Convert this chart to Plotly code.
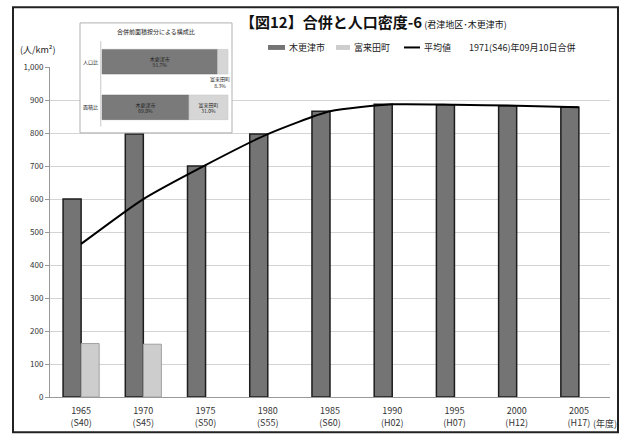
import plotly.graph_objects as go

# ---- data ----
years = ["1965<br>(S40)", "1970<br>(S45)", "1975<br>(S50)", "1980<br>(S55)", "1985<br>(S60)",
         "1990<br>(H02)", "1995<br>(H07)", "2000<br>(H12)", "2005<br>(H17)"]
kisarazu = [600, 797, 700, 797, 866, 887, 886, 883, 878]
fukuta = [162, 160, None, None, None, None, None, None, None]
average = [464, 600, 703, 797, 866, 887, 886, 883, 878]
series_names = ["木更津市", "富来田町", "平均値"]

inset_rows = ["人口比", "面積比"]
inset_kisarazu = [91.7, 69.0]
inset_fukuta = [8.3, 31.0]

FONT = "Noto Sans CJK JP"
DARK = "#747474"
LIGHT = "#cdcdcd"

# pixel -> paper helpers (plot area: x 50..610, y 15..401)
def px(x):
    return (x - 50) / 560.0

def py(y):
    return (401 - y) / 386.0

fig = go.Figure()

fig.add_trace(go.Bar(
    x=years, y=kisarazu, name=series_names[0],
    marker=dict(color=DARK, line=dict(color="#1e1e1e", width=1.5)),
    xaxis="x", yaxis="y",
))
fig.add_trace(go.Bar(
    x=years, y=fukuta, name=series_names[1],
    marker=dict(color=LIGHT, line=dict(color="#a0a0a0", width=1)),
    xaxis="x", yaxis="y",
))
fig.add_trace(go.Scatter(
    x=years, y=average, name=series_names[2], mode="lines",
    line=dict(color="black", width=2, shape="spline", smoothing=0.6),
    xaxis="x", yaxis="y",
))

# inset stacked bars
yrow = [1, 0]
fig.add_trace(go.Bar(
    x=inset_kisarazu, y=yrow, orientation="h", width=0.54, offsetgroup="ins",
    marker=dict(color="#7a7a7a", line=dict(color="#6a6a6a", width=0.5)),
    text=[f"木更津市<br>{v:.1f}%" for v in inset_kisarazu],
    textposition="inside", insidetextanchor="middle",
    textfont=dict(size=5, color="#222", family=FONT),
    xaxis="x2", yaxis="y2",
))
fig.add_trace(go.Bar(
    x=inset_fukuta, y=yrow, base=inset_kisarazu, orientation="h", width=0.54, offsetgroup="ins",
    marker=dict(color="#d6d6d6", line=dict(color="#c0c0c0", width=0.5)),
    text=["", f"富来田町<br>{inset_fukuta[1]:.1f}%"],
    textposition="inside", insidetextanchor="middle",
    textfont=dict(size=5, color="#222", family=FONT),
    xaxis="x2", yaxis="y2",
))

annotations = [
    dict(x=px(238), y=py(19), xref="paper", yref="paper", xanchor="left", yanchor="middle",
         showarrow=False,
         text="<b>【図12】合併と人口密度-6</b><span style='font-size:9px'> (君津地区･木更津市)</span>",
         font=dict(size=15, color="#111", family=FONT)),
    dict(x=px(522), y=py(45), xref="paper", yref="paper", xanchor="center", yanchor="middle",
         showarrow=False, text="1971(S46)年09月10日合併",
         font=dict(size=9, color="#222", family=FONT)),
    dict(x=px(38), y=py(47), xref="paper", yref="paper", xanchor="center", yanchor="middle",
         showarrow=False, text="(人/km²)",
         font=dict(size=9, color="#222", family=FONT)),
    dict(x=px(591), y=py(428), xref="paper", yref="paper", xanchor="left", yanchor="middle",
         showarrow=False, text="(年度)",
         font=dict(size=9, color="#333", family=FONT)),
    # inset title
    dict(x=px(156), y=py(29), xref="paper", yref="paper", xanchor="center", yanchor="middle",
         showarrow=False, text="合併前面積按分による構成比",
         font=dict(size=6, color="#222", family=FONT)),
    # small share label below the 人口比 bar
    dict(x=103, y=0.55, xref="x2", yref="y2", xanchor="right", yanchor="middle",
         showarrow=False, text=f"富来田町<br>{inset_fukuta[0]:.1f}%",
         font=dict(size=5, color="#222", family=FONT)),
]
for r, yy in zip(inset_rows, yrow):
    annotations.append(dict(x=-9, y=yy, xref="x2", yref="y2", xanchor="center", yanchor="middle",
                            showarrow=False, text=r, font=dict(size=5, color="#222", family=FONT)))

shapes = [
    # outer frame
    dict(type="rect", xref="paper", yref="paper", x0=px(13), x1=px(618), y0=py(437), y1=py(4),
         line=dict(color="#222", width=2), layer="above"),
    # inset frame
    dict(type="rect", xref="paper", yref="paper", x0=px(80), x1=px(232), y0=py(132), y1=py(20),
         line=dict(color="#b0b0b0", width=1), layer="above"),
    # inset axis line
    dict(type="line", xref="x2", yref="y2", x0=-1, x1=-1, y0=-0.42, y1=1.45,
         line=dict(color="#c8c8c8", width=1)),
]

# hand-drawn legend (compact, like the original)
leg_y = 45
legend_items = [
    ("bar", DARK, 268, 285, series_names[0]),
    ("bar", LIGHT, 336, 350, series_names[1]),
    ("line", "black", 404, 420, series_names[2]),
]
for kind, col, x0, x1, label in legend_items:
    if kind == "bar":
        shapes.append(dict(type="rect", xref="paper", yref="paper",
                           x0=px(x0), x1=px(x1), y0=py(leg_y + 2.5), y1=py(leg_y - 2.5),
                           fillcolor=col, line=dict(color=col, width=0)))
    else:
        shapes.append(dict(type="line", xref="paper", yref="paper",
                           x0=px(x0), x1=px(x1), y0=py(leg_y), y1=py(leg_y),
                           line=dict(color=col, width=2)))
    annotations.append(dict(x=px(x1 + 2), y=py(leg_y), xref="paper", yref="paper",
                            xanchor="left", yanchor="middle", showarrow=False, text=label,
                            font=dict(size=9, color="#222", family=FONT)))

fig.update_layout(
    width=624, height=441,
    margin=dict(l=50, r=14, t=15, b=40),
    paper_bgcolor="white", plot_bgcolor="white",
    font=dict(family=FONT, size=9, color="#333"),
    barmode="group", bargap=0.42, bargroupgap=0,
    showlegend=False,
    xaxis=dict(domain=[0, 1], showgrid=False, showline=True, linecolor="#999", linewidth=1,
               ticks="", tickfont=dict(size=9, color="#333"), ticklabelstandoff=5,
               fixedrange=True),
    yaxis=dict(domain=[0, py(65)], range=[0, 1000], dtick=100, tickformat=",",
               showgrid=True, gridcolor="#d4d4d4", gridwidth=1,
               showline=True, linecolor="#999", ticks="outside", ticklen=4, tickcolor="#999",
               tickfont=dict(size=8, color="#333"), zeroline=False),
    xaxis2=dict(domain=[px(80), px(232)], range=[-17.5, 103.2], anchor="y2",
                showgrid=False, showticklabels=False, zeroline=False, showline=False),
    yaxis2=dict(domain=[py(132), py(20)], range=[-0.56, 1.85], anchor="x2",
                showgrid=False, showticklabels=False, zeroline=False, showline=False),
    annotations=annotations,
    shapes=shapes,
)

fig.write_html("out.html")
